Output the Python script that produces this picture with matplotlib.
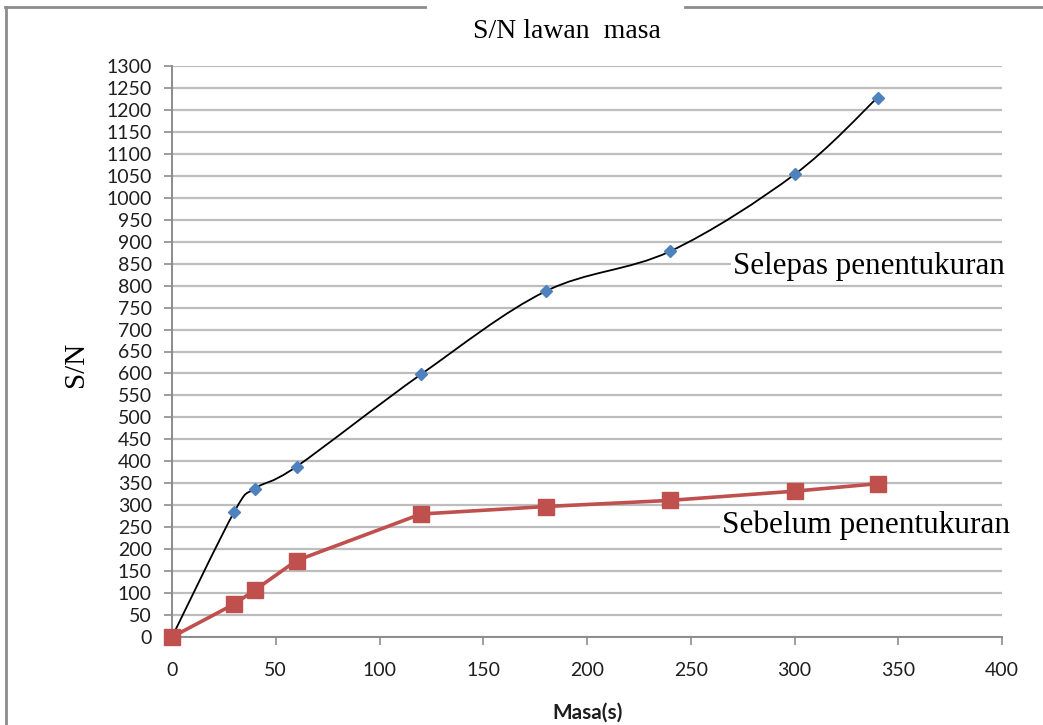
import matplotlib
matplotlib.use("Agg")
import matplotlib.pyplot as plt
import numpy as np
from matplotlib.path import Path
from matplotlib.patches import PathPatch
from matplotlib.lines import Line2D

# Data: S/N versus time (s)
masa = [0, 30, 40, 60, 120, 180, 240, 300, 340]
selepas = [0, 285, 338, 388, 598, 787, 878, 1053, 1228]
sebelum = [0, 75, 107, 174, 280, 297, 311, 332, 349]

x_ticks = list(range(0, 401, 50))
y_ticks = list(range(0, 1301, 50))

title = "S/N lawan  masa"
xlabel = "Masa(s)"
ylabel = "S/N"
label_selepas = "Selepas penentukuran"
label_sebelum = "Sebelum penentukuran"

SERIF = ["Liberation Serif", "DejaVu Serif"]
SANS = ["Lato", "DejaVu Sans"]


def smooth_path(ax, xs, ys):
    """Bezier path through the points (Catmull-Rom style), built in display space."""
    pts = ax.transData.transform(np.column_stack([xs, ys]))
    n = len(pts)
    verts = [pts[0]]
    codes = [Path.MOVETO]
    for i in range(n - 1):
        p0 = pts[max(i - 1, 0)]
        p1 = pts[i]
        p2 = pts[i + 1]
        p3 = pts[min(i + 2, n - 1)]
        c1 = p1 + (p2 - p0) / 6.0
        c2 = p2 - (p3 - p1) / 6.0
        verts += [c1, c2, p2]
        codes += [Path.CURVE4] * 3
    return Path(verts, codes)


fig = plt.figure(figsize=(10.43, 7.25), dpi=100)
fig.patch.set_facecolor("white")
ax = fig.add_axes([172 / 1043, 1 - 637 / 725, (1002 - 172) / 1043, (637 - 66) / 725])

ax.set_xlim(0, 400)
ax.set_ylim(0, 1300)
ax.set_xticks(x_ticks)
ax.set_yticks(y_ticks)
ax.tick_params(axis="both", which="both", length=6, width=1.2, color="#8c8c8c",
               labelcolor="#1e1e1e", labelsize=14)
ax.tick_params(axis="x", pad=12)
ax.tick_params(axis="y", pad=8.5)
for lab in ax.get_xticklabels() + ax.get_yticklabels():
    lab.set_family(SANS)

ax.yaxis.grid(True, color="#bdbdbd", linewidth=1.6)
ax.xaxis.grid(False)
ax.set_axisbelow(True)
for side in ("top", "right"):
    ax.spines[side].set_visible(False)
for side in ("left", "bottom"):
    ax.spines[side].set_color("#8c8c8c")
    ax.spines[side].set_linewidth(1.4)

# Smoothed black curve with blue diamond markers
fig.canvas.draw()
curve = PathPatch(smooth_path(ax, masa, selepas), transform=None, fill=False,
                  edgecolor="black", linewidth=1.3, zorder=3)
ax.add_artist(curve)
ax.plot(masa, selepas, linestyle="none", marker="D", markersize=6.5,
        color="#4f81bd", zorder=4, clip_on=False)

# Straight red line with square markers
ax.plot(masa, sebelum, color="#c0504d", linewidth=2.6, marker="s", markersize=12,
        markerfacecolor="#c0504d", markeredgecolor="#c0504d", zorder=5, clip_on=False)

ax.text(1.0036, 0.648, label_selepas, transform=ax.transAxes, ha="right", va="center",
        fontsize=22.3, family=SERIF, color="black", zorder=6,
        bbox=dict(facecolor="white", edgecolor="none", pad=1.5))
ax.text(1.0096, 0.196, label_sebelum, transform=ax.transAxes, ha="right", va="center",
        fontsize=22.5, family=SERIF, color="black", zorder=6,
        bbox=dict(facecolor="white", edgecolor="none", pad=1.5))

ax.set_xlabel(xlabel, fontsize=15, fontweight="bold", family=SANS, color="#1e1e1e")
ax.xaxis.set_label_coords((588 - 172) / 830, -(713 - 637) / 571)
ax.xaxis.label.set_va("center")
ax.set_ylabel(ylabel, fontsize=21, family=SERIF, color="black")
ax.yaxis.set_label_coords(-(172 - 76) / 830, (637 - 364) / 571)
ax.yaxis.label.set_va("center")

# Outer frame with a gap behind the title
frame_color = "#8c8c8c"
fig.add_artist(Line2D([6 / 1043, 6 / 1043], [0, 1 - 7 / 725], transform=fig.transFigure,
                      color=frame_color, linewidth=2.0))
fig.add_artist(Line2D([5 / 1043, 425 / 1043], [1 - 7 / 725] * 2, transform=fig.transFigure,
                      color=frame_color, linewidth=2.0))
fig.add_artist(Line2D([685 / 1043, 1], [1 - 7 / 725] * 2, transform=fig.transFigure,
                      color=frame_color, linewidth=2.0))

fig.text(567 / 1043, 1 - 32 / 725, title, ha="center", va="center", fontsize=20,
         family=SERIF, color="black")

fig.savefig("out.png", dpi=100, facecolor="white")
